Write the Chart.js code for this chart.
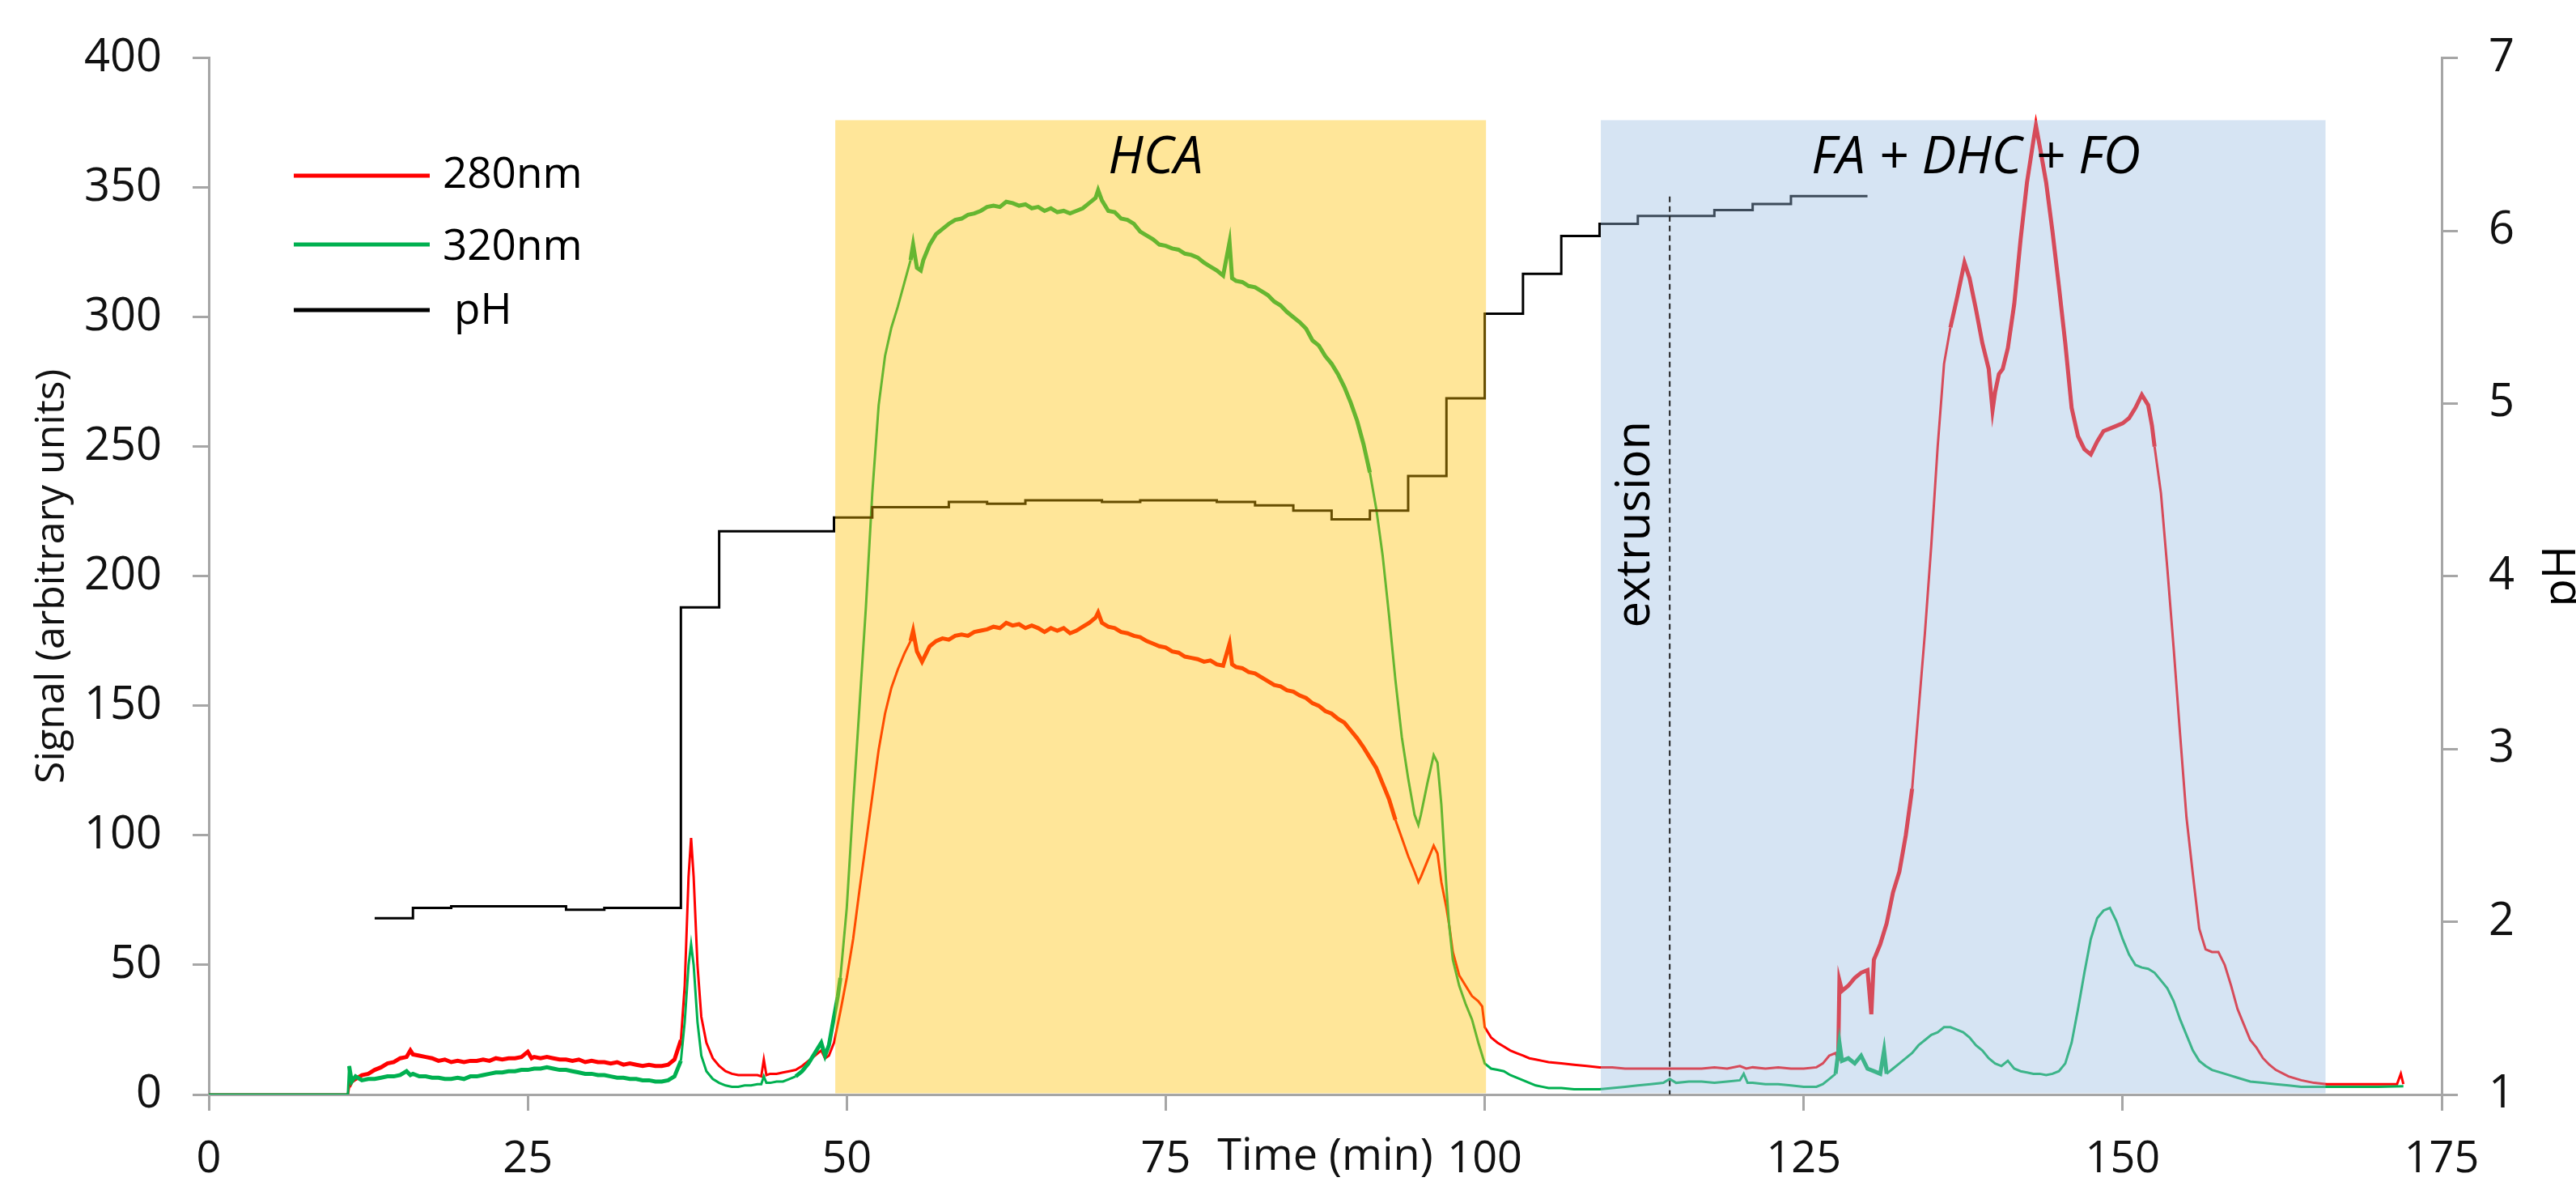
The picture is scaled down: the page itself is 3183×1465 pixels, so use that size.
<!DOCTYPE html>
<html>
<head>
<meta charset="utf-8">
<title>Signal and pH vs time</title>
<script src="https://cdn.jsdelivr.net/npm/chart.js@4.4.1/dist/chart.umd.min.js"></script>
<style>
  html, body { margin: 0; padding: 0; background: #fff; overflow: hidden; }
  canvas { display: block; }
</style>
</head>
<body>
<canvas id="chart" width="3183" height="1465"></canvas>
<script>
// [time (min), signal]
const signal280 = [
  [0,0],[10.9,0],[11,3],[11.2,5],[11.5,6],[12,7.5],[12.5,8],[13,9.5],[13.5,10.5],[14,12],[14.5,12.5],[15,14],[15.5,14.5],[15.8,17],[16,15.5],
  [16.5,15],[17,14.5],[17.5,14],[18,13],[18.5,13.5],[19,12.5],[19.5,13],[20,12.5],[20.5,13],[21,13],[21.5,13.5],[22,13],[22.5,14],[23,13.5],
  [23.5,14],[24,14],[24.5,14.5],[25,16.5],[25.3,14],[25.5,14.5],[26,14],[26.5,14.5],[27,14],[27.5,13.5],[28,13.5],[28.5,13],[29,13.5],[29.5,12.5],
  [30,13],[30.5,12.5],[31,12.5],[31.5,12],[32,12.5],[32.5,11.5],[33,12],[33.5,11.5],[34,11],[34.5,11.5],[35,11],[35.5,11],[36,11.5],[36.5,13.5],
  [37,21],[37.3,42],[37.6,84],[37.8,99],[38,84],[38.3,50],[38.6,30],[39,20],[39.5,14],[40,11],[40.5,9],[41,8],[41.5,7.5],[42,7.5],[42.5,7.5],
  [43,7.5],[43.3,7],[43.5,13.5],[43.7,7.5],[44,8],[44.5,8],[45,8.5],[45.5,9],[46,9.5],[46.5,11],[47,13],[47.5,15],[48,17],[48.3,14],[48.6,15],
  [49,20],[49.5,32],[50,45],[50.5,60],[51,79],[51.5,97],[52,115],[52.5,133],[53,147],[53.5,157],[54,164],[54.5,170],[55,175],[55.2,179],
  [55.5,171],[55.9,167],[56.2,170],[56.5,173],[57,175],[57.5,176],[58,175.5],[58.5,177],[59,177.5],[59.5,177],[60,178.5],[60.5,179],[61,179.5],
  [61.5,180.5],[62,180],[62.5,182],[63,181],[63.5,181.5],[64,180],[64.5,181],[65,180],[65.5,178.5],[66,180],[66.5,179],[67,180],[67.5,178],
  [68,179],[68.5,180.5],[69,182],[69.5,184],[69.7,186],[70,182],[70.5,180.5],[71,180],[71.5,178.5],[72,178],[72.5,177],[73,176.5],[73.5,175],
  [74,174],[74.5,173],[75,172.5],[75.5,171],[76,170.5],[76.5,169],[77,168.5],[77.5,168],[78,167],[78.5,167.5],[79,166],[79.5,165.5],[80,174],
  [80.2,166],[80.5,165],[81,164.5],[81.5,163],[82,162.5],[82.5,161],[83,159.5],[83.5,158],[84,157.5],[84.5,156],[85,155.5],[85.5,154],[86,153],
  [86.5,151],[87,150],[87.5,148],[88,147],[88.5,145],[89,143.5],[89.5,140.5],[90,137.5],[90.5,134],[91,130],[91.5,126],[92,120],[92.5,114],
  [93,106],[93.5,99],[94,92],[94.5,86],[94.8,82],[95,84],[95.5,90],[96,96],[96.3,93],[96.6,82],[97,72],[97.2,66],[97.5,55],[98,46],[98.5,42],
  [99,38],[99.5,36],[99.8,34],[100,26],[100.5,22],[101,20],[101.5,18.5],[102,17],[102.5,16],[103,15],[103.5,14],[104,13.5],[104.5,13],[105,12.5],
  [106,12],[107,11.5],[108,11],[109,10.5],[110,10.5],[111,10],[112,10],[113,10],[114,10],[115,10],[116,10],[117,10],[118,10.5],[119,10],
  [120,11],[120.5,10],[121,10.5],[122,10],[123,10.5],[124,10],[125,10],[126,10.5],[126.5,12],[127,15],[127.5,16],[127.7,13],[127.8,44],[128,40],
  [128.5,42],[129,45],[129.5,47],[130,48],[130.3,31],[130.5,52],[131,58],[131.5,66],[132,78],[132.5,86],[133,100],[133.5,118],[134,148],
  [134.5,178],[135,212],[135.5,250],[136,282],[136.5,296],[137,307],[137.6,321],[138,315],[138.5,303],[139,290],[139.5,280],[139.8,264],[140,271],
  [140.3,278],[140.6,280],[141,288],[141.5,305],[142,330],[142.5,352],[143,368],[143.2,374],[143.5,366],[144,352],[144.5,333],[145,312],
  [145.5,290],[146,265],[146.5,254],[147,249],[147.5,247],[148,252],[148.5,256],[149,257],[149.5,258],[150,259],[150.5,261],[151,265],[151.5,270],
  [152,266],[152.3,258],[152.5,250],[153,232],[153.5,203],[154,172],[154.5,139],[155,107],[155.5,85],[156,64],[156.5,56],[157,55],[157.5,55],
  [158,50],[158.5,42],[159,33],[159.5,27],[160,21],[160.5,18],[161,14],[161.5,11.5],[162,9.5],[163,7],[164,5.5],[165,4.5],[166,4],[168,4],
  [170,4],[171.5,4],[171.8,8],[172,4]
];

// [time (min), signal]
const signal320 = [
  [0,0],[10.9,0],[11,11],[11.2,5],[11.5,7],[12,5.5],[12.5,6],[13,6],[13.5,6.5],[14,7],[14.5,7],[15,7.5],[15.5,9],[15.8,7.5],[16,8],[16.5,7],
  [17,7],[17.5,6.5],[18,6.5],[18.5,6],[19,6],[19.5,6.5],[20,6],[20.5,7],[21,7],[21.5,7.5],[22,8],[22.5,8.5],[23,8.5],[23.5,9],[24,9],[24.5,9.5],
  [25,9.5],[25.5,10],[26,10],[26.5,10.5],[27,10],[27.5,9.5],[28,9.5],[28.5,9],[29,8.5],[29.5,8],[30,8],[30.5,7.5],[31,7.5],[31.5,7],[32,6.5],
  [32.5,6.5],[33,6],[33.5,6],[34,5.5],[34.5,5.5],[35,5],[35.5,5],[36,5.5],[36.5,7],[37,13],[37.3,28],[37.6,50],[37.8,58],[38,50],[38.3,28],
  [38.6,15],[39,9],[39.5,6],[40,4.5],[40.5,3.5],[41,3],[41.5,3],[42,3.5],[42.5,3.5],[43,4],[43.3,4],[43.5,7],[43.7,4.5],[44,4.5],[44.5,5],
  [45,5],[45.5,6],[46,7],[46.5,9],[47,12],[47.5,16],[48,20],[48.3,15],[48.6,19],[49,30],[49.3,38],[49.5,45],[50,72],[50.5,112],[51,150],
  [51.5,188],[52,232],[52.5,266],[53,285],[53.5,296],[54,304],[54.5,313],[55,322],[55.2,328],[55.5,319],[55.8,318],[56,322],[56.5,328],
  [57,332],[57.5,334],[58,336],[58.5,337.5],[59,338],[59.5,339.5],[60,340],[60.5,341],[61,342.5],[61.5,343],[62,342.5],[62.5,344.5],[63,344],
  [63.5,343],[64,343.5],[64.5,342],[65,342.5],[65.5,341],[66,342],[66.5,340.5],[67,341],[67.5,340],[68,341],[68.5,342],[69,344],[69.5,346],
  [69.7,349],[70,345],[70.5,341],[71,340.5],[71.5,338],[72,337.5],[72.5,336],[73,333],[73.5,331.5],[74,330],[74.5,328],[75,327.5],[75.5,326.5],
  [76,326],[76.5,324.5],[77,324],[77.5,323],[78,321],[78.5,319.5],[79,318],[79.5,316],[80,329],[80.2,315],[80.5,314],[81,313.5],[81.5,312],
  [82,311.5],[82.5,310],[83,308.5],[83.5,306],[84,304.5],[84.5,302],[85,300],[85.5,298],[86,295.5],[86.5,291],[87,289],[87.5,285],[88,282],
  [88.5,278],[89,273],[89.5,267],[90,260],[90.5,251],[91,240],[91.5,226],[92,208],[92.5,185],[93,160],[93.5,138],[94,122],[94.5,108],
  [94.8,104],[95,108],[95.5,120],[96,131],[96.3,128],[96.6,112],[97,80],[97.2,66],[97.5,52],[98,42],[98.5,35],[99,29],[99.5,20],[100,12],
  [100.5,10],[101,9.5],[101.5,9],[102,7.5],[102.5,6.5],[103,5.5],[103.5,4.5],[104,3.5],[104.5,3],[105,2.5],[106,2.5],[107,2],[108,2],[109,2],
  [110,2.5],[111,3],[112,3.5],[113,4],[114,4.5],[114.5,6],[115,4.5],[116,5],[117,5],[118,4.5],[119,5],[120,5.5],[120.3,8],[120.6,4.5],[121,4.5],
  [122,4],[123,4],[124,3.5],[125,3],[126,3],[126.5,4],[127,6],[127.5,8],[127.8,20],[128,13],[128.5,14],[129,12],[129.5,15],[130,10],[130.5,9],
  [131,8],[131.3,17],[131.5,8],[132,10],[132.5,12],[133,14],[133.5,16],[134,19],[134.5,21],[135,23],[135.5,24],[136,26],[136.5,26],[137,25],
  [137.5,24],[138,22],[138.5,19],[139,17],[139.5,14],[140,12],[140.5,11],[141,13],[141.5,10],[142,9],[142.5,8.5],[143,8],[143.5,8],[144,7.5],
  [144.5,8],[145,9],[145.5,12],[146,20],[146.5,33],[147,47],[147.5,60],[148,68],[148.5,71],[149,72],[149.5,67],[150,60],[150.5,54],[151,50],
  [151.5,49],[152,48.5],[152.5,47],[153,44],[153.5,41],[154,36],[154.5,29],[155,23],[155.5,17],[156,13],[156.5,11],[157,9.5],[158,8],[159,6.5],
  [160,5],[161,4.5],[162,4],[163,3.5],[164,3],[166,3],[168,3],[170,3],[172,3.2]
];

// pH steps: [time the level starts, pH]
const phSteps = [
  [13,2.02],[16,2.08],[19,2.09],[28,2.07],[31,2.08],[37,3.82],[40,4.26],[49,4.34],[52,4.40],[58,4.43],[61,4.42],[64,4.44],
  [70,4.43],[73,4.44],[79,4.43],[82,4.41],[85,4.38],[88,4.33],[91,4.38],[94,4.58],[97,5.03],[100,5.52],[103,5.75],[106,5.97],
  [109,6.04],[112,6.085],[118,6.12],[121,6.155],[124,6.20],[130,6.20]
];

// time spans where the detector traces are visibly noisy (drawn as a wider band)
const noisy280 = [[11, 36.6], [55, 93], [127.7, 133.5], [136.5, 152.4]];
const noisy320 = [[11, 36.6], [46, 49.5], [55, 91], [127.5, 131.5]];

// shaded fractions
const regionNames = ['HCA', 'FA + DHC + FO'];
const regionStart = [49.1, 109.1];
const regionEnd = [100.1, 165.9];
const regionTop = 376;
const regionLabelAt = [74.2, 138.5];

const extrusionTime = 114.5;
const extrusionTop = 346.5;

const seriesNames = ['280nm', '320nm', 'pH'];

const FONT = '"Open Sans", "DejaVu Sans", sans-serif';
const AXIS_GREY = '#a6a6a6';

const toPoints = arr => arr.map(p => ({ x: p[0], y: p[1] }));

// wider stroke inside the noisy spans
const bandWidth = (spans, wide, thin) => c => {
  const t = c.p0.parsed.x;
  return spans.some(s => t >= s[0] && t < s[1]) ? wide : thin;
};

// shaded boxes go over the traces (semi-transparent), text on top
const overlayPlugin = {
  id: 'overlays',
  afterDatasetsDraw(chart) {
    const { ctx, scales: { x, y } } = chart;
    const fills = ['rgba(255, 192, 0, 0.4)', 'rgba(152, 188, 225, 0.4)'];
    ctx.save();
    regionNames.forEach((name, i) => {
      const left = x.getPixelForValue(regionStart[i]);
      const right = x.getPixelForValue(regionEnd[i]);
      const top = y.getPixelForValue(regionTop);
      const bottom = y.getPixelForValue(0) - 1.5;
      ctx.fillStyle = fills[i];
      ctx.fillRect(left, top, right - left, bottom - top);
    });

    // region labels
    ctx.fillStyle = '#000';
    ctx.font = 'italic 64px ' + FONT;
    ctx.textAlign = 'center';
    ctx.textBaseline = 'alphabetic';
    regionNames.forEach((name, i) => {
      ctx.fillText(name, x.getPixelForValue(regionLabelAt[i]), y.getPixelForValue(355.5));
    });

    // extrusion marker
    const ex = x.getPixelForValue(extrusionTime);
    ctx.strokeStyle = '#222';
    ctx.lineWidth = 2;
    ctx.setLineDash([7, 5]);
    ctx.beginPath();
    ctx.moveTo(ex, y.getPixelForValue(extrusionTop));
    ctx.lineTo(ex, y.getPixelForValue(0));
    ctx.stroke();
    ctx.setLineDash([]);

    ctx.save();
    ctx.translate(x.getPixelForValue(112.9), y.getPixelForValue(220));
    ctx.rotate(-Math.PI / 2);
    ctx.font = '58px ' + FONT;
    ctx.textAlign = 'center';
    ctx.fillText('extrusion', 0, 0);
    ctx.restore();

    // legend
    const legendColors = ['#ff0000', '#00b050', '#000000'];
    const legendY = [217, 302, 383];
    const textBase = [232, 321, 400];
    const textX = [547, 547, 561];
    ctx.lineWidth = 5;
    ctx.font = '53px ' + FONT;
    ctx.textAlign = 'left';
    seriesNames.forEach((name, i) => {
      ctx.strokeStyle = legendColors[i];
      ctx.beginPath();
      ctx.moveTo(363, legendY[i]);
      ctx.lineTo(531, legendY[i]);
      ctx.stroke();
      ctx.fillStyle = '#000';
      ctx.fillText(name, textX[i], textBase[i]);
    });

    // right axis title, rotated like the left one and running off the edge
    ctx.save();
    ctx.translate(3182, (chart.chartArea.top + chart.chartArea.bottom) / 2);
    ctx.rotate(-Math.PI / 2);
    ctx.font = '56px ' + FONT;
    ctx.textAlign = 'center';
    ctx.fillText('pH', 0, 0);
    ctx.restore();

    ctx.restore();
  }
};

const ctx = document.getElementById('chart').getContext('2d');
new Chart(ctx, {
  type: 'line',
  data: {
    datasets: [
      {
        label: seriesNames[2],
        data: toPoints(phSteps),
        yAxisID: 'y2',
        borderColor: '#000',
        borderWidth: 3,
        stepped: true,
        pointRadius: 0,
        order: 0
      },
      {
        label: seriesNames[1],
        data: toPoints(signal320),
        yAxisID: 'y',
        borderColor: '#00b050',
        borderWidth: 3,
        segment: { borderWidth: bandWidth(noisy320, 5, 3) },
        pointRadius: 0,
        order: 1
      },
      {
        label: seriesNames[0],
        data: toPoints(signal280),
        yAxisID: 'y',
        borderColor: '#ff0000',
        borderWidth: 3,
        segment: { borderWidth: bandWidth(noisy280, 5, 3) },
        pointRadius: 0,
        order: 2
      }
    ]
  },
  options: {
    responsive: false,
    animation: false,
    devicePixelRatio: 1,
    layout: { padding: { top: 67, left: 0, right: 0, bottom: 0 } },
    plugins: {
      legend: { display: false },
      tooltip: { enabled: false }
    },
    scales: {
      x: {
        type: 'linear',
        min: 0,
        max: 175,
        afterFit: s => { s.height = 113; },
        afterBuildTicks: s => { s.ticks = [0, 25, 50, 75, 100, 125, 150, 175].map(v => ({ value: v })); },
        grid: { drawOnChartArea: false, color: AXIS_GREY, lineWidth: 3, tickLength: 20 },
        border: { color: AXIS_GREY, width: 3 },
        ticks: { color: '#111', font: { family: FONT, size: 54 }, padding: 28, maxRotation: 0 },
        title: { display: true, text: 'Time (min)', color: '#111', font: { family: FONT, size: 54 }, padding: { top: 0, bottom: 3 } }
      },
      y: {
        position: 'left',
        min: 0,
        max: 400,
        afterFit: s => { s.width = 258; },
        grid: { drawOnChartArea: false, color: AXIS_GREY, lineWidth: 3, tickLength: 20 },
        border: { color: AXIS_GREY, width: 3 },
        ticks: { stepSize: 50, color: '#111', font: { family: FONT, size: 56 }, padding: 38 },
        title: { display: true, text: 'Signal (arbitrary units)', color: '#111', font: { family: FONT, size: 50 }, padding: { top: 35, bottom: 0 } }
      },
      y2: {
        position: 'right',
        min: 1,
        max: 7,
        afterFit: s => { s.width = 166; },
        grid: { drawOnChartArea: false, color: AXIS_GREY, lineWidth: 3, tickLength: 20 },
        border: { color: AXIS_GREY, width: 3 },
        ticks: { stepSize: 1, color: '#111', font: { family: FONT, size: 56 }, padding: 38 }
      }
    }
  },
  plugins: [overlayPlugin]
});
</script>
</body>
</html>
